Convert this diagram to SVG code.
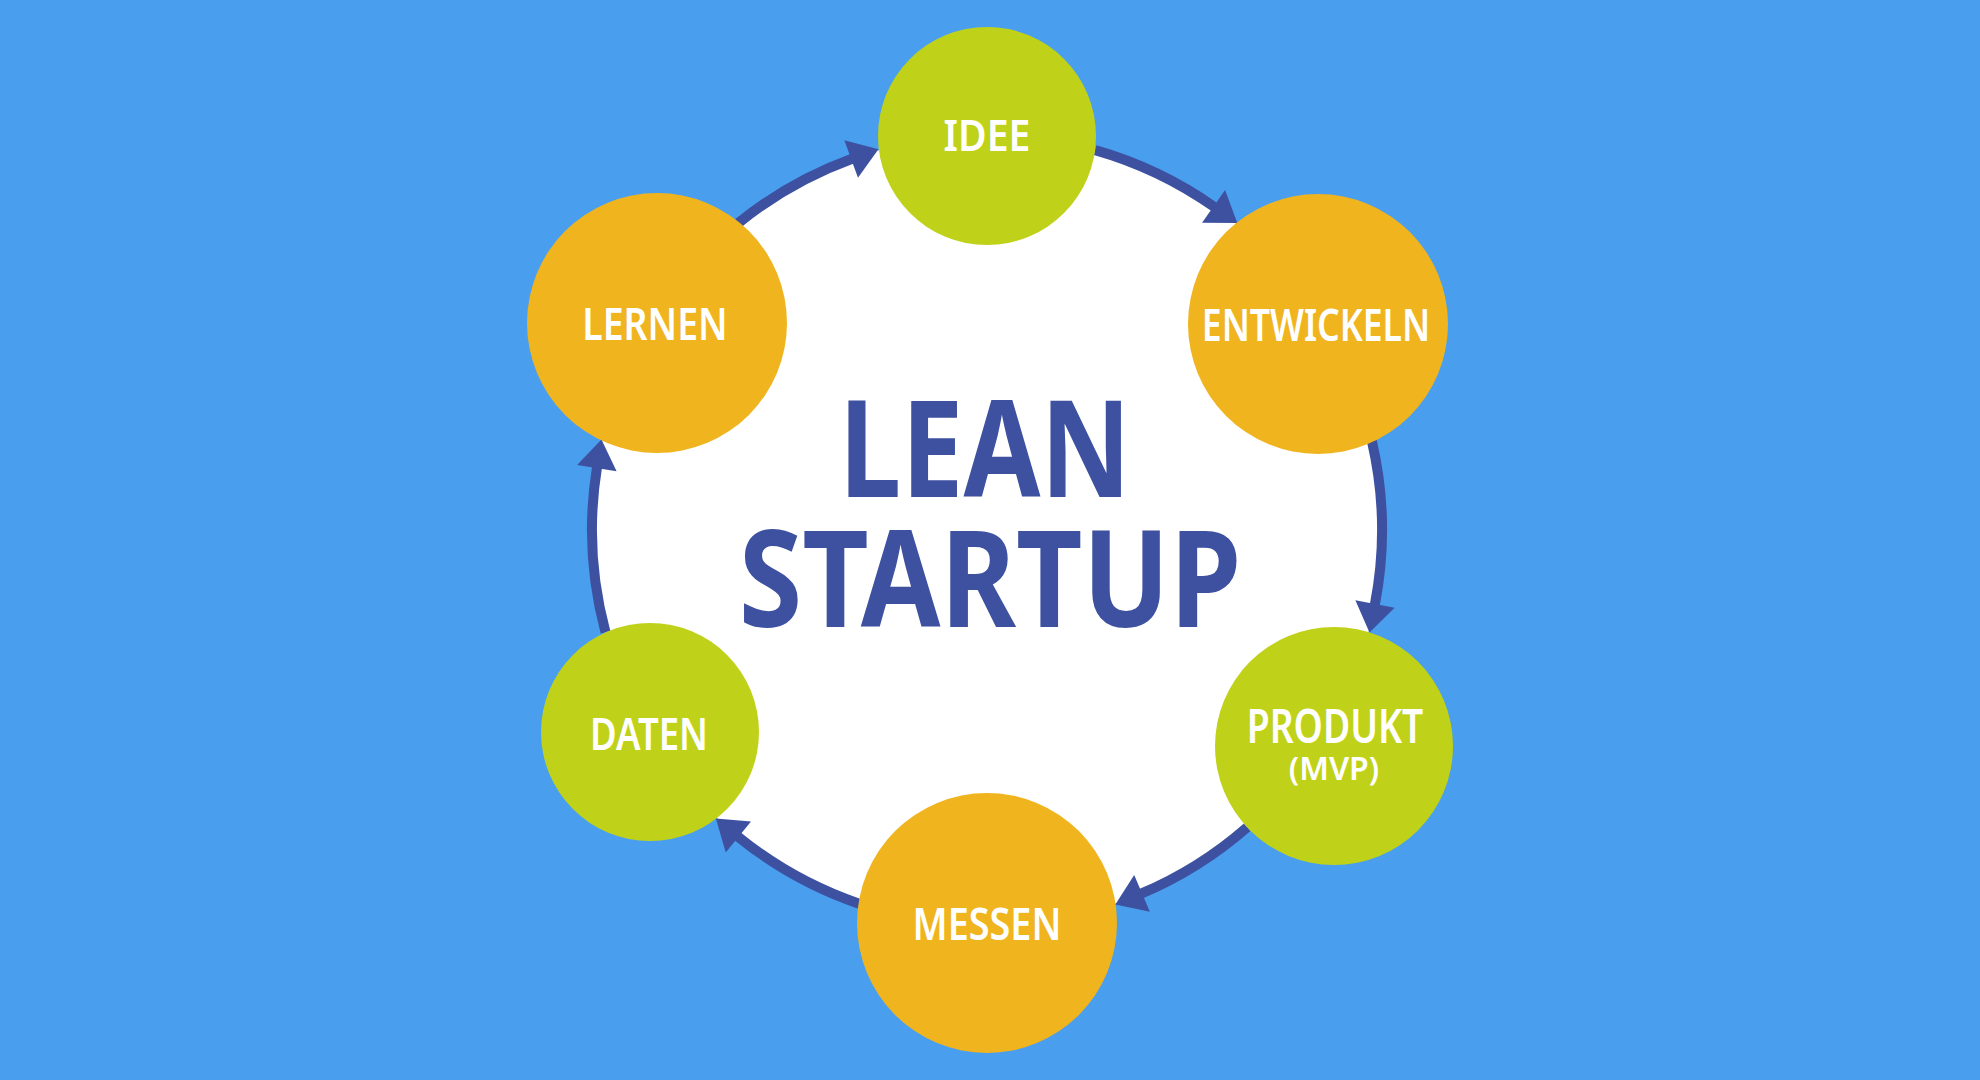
<svg xmlns="http://www.w3.org/2000/svg" width="1980" height="1080" viewBox="0 0 1980 1080">
<style>
.green{fill:#BFD219}
.orange{fill:#F0B41F}
.lbl{font-family:"Noto Sans","Open Sans","Liberation Sans",sans-serif;font-weight:600;fill:#FFFFFF;text-anchor:middle}
.title{font-family:"Noto Sans","Open Sans","Liberation Sans",sans-serif;font-weight:700;fill:#3D51A0;text-anchor:middle}
.arc{fill:none;stroke:#3D51A0;stroke-width:10}
</style>
<defs>
<marker id="ah" viewBox="-2 -22 32 44" refX="0" refY="0" markerWidth="32" markerHeight="44" markerUnits="userSpaceOnUse" orient="auto" overflow="visible">
<path d="M-1,-20 L28,0 L-1,20 Z" fill="#3D51A0"/>
</marker>
</defs>
<rect x="0" y="0" width="1980" height="1080" fill="#4A9EEE"/>
<circle cx="987" cy="530" r="395" fill="#FFFFFF"/>
<g id="connectors">
<path class="arc" d="M738.4,223.0 A395,395 0 0 1 852.1,158.7" marker-end="url(#ah)"/>
<path class="arc" d="M1095.2,150.1 A395,395 0 0 1 1214.4,207.0" marker-end="url(#ah)"/>
<path class="arc" d="M1371.9,441.1 A395,395 0 0 1 1374.8,605.0" marker-end="url(#ah)"/>
<path class="arc" d="M1247.2,827.2 A395,395 0 0 1 1141.1,893.7" marker-end="url(#ah)"/>
<path class="arc" d="M859.1,903.7 A395,395 0 0 1 737.6,836.3" marker-end="url(#ah)"/>
<path class="arc" d="M605.5,632.2 A395,395 0 0 1 597.0,467.2" marker-end="url(#ah)"/>
</g>
<g id="title">
<text class="title" transform="translate(985,497) scale(0.83,1)" font-size="134">LEAN</text>
<text class="title" transform="translate(990,627) scale(0.86,1)" font-size="134">STARTUP</text>
</g>
<g id="idee">
<circle class="green" cx="987" cy="136" r="109"/>
<text class="lbl" transform="translate(987,151) scale(0.91,1)" font-size="43">IDEE</text>
</g>
<g id="entwickeln">
<circle class="orange" cx="1318" cy="324" r="130"/>
<text class="lbl" transform="translate(1316,341) scale(0.79,1)" font-size="45">ENTWICKELN</text>
</g>
<g id="produkt">
<circle class="green" cx="1334" cy="746" r="119"/>
<text class="lbl" transform="translate(1335,743) scale(0.81,1)" font-size="46">PRODUKT</text>
<text class="lbl" transform="translate(1334,780) scale(1,1)" font-size="32">(MVP)</text>
</g>
<g id="messen">
<circle class="orange" cx="987" cy="923" r="130"/>
<text class="lbl" transform="translate(987,940) scale(0.84,1)" font-size="45">MESSEN</text>
</g>
<g id="daten">
<circle class="green" cx="650" cy="732" r="109"/>
<text class="lbl" transform="translate(649,750) scale(0.81,1)" font-size="45">DATEN</text>
</g>
<g id="lernen">
<circle class="orange" cx="657" cy="323" r="130"/>
<text class="lbl" transform="translate(655,340) scale(0.83,1)" font-size="45">LERNEN</text>
</g>
</svg>
